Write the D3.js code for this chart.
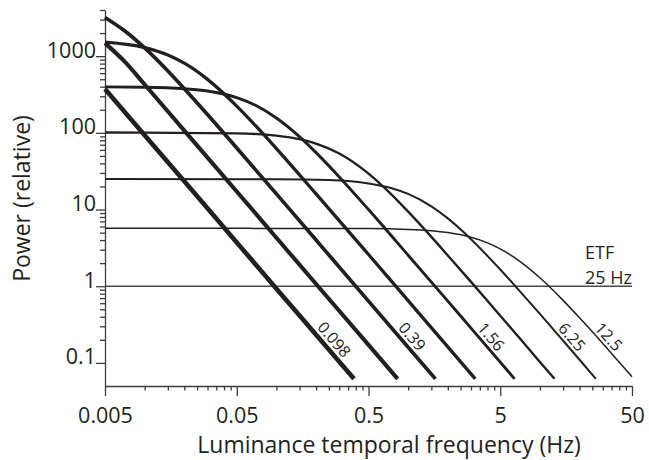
<!DOCTYPE html>
<html>
<head>
<meta charset="utf-8">
<script src="https://cdn.jsdelivr.net/npm/d3@7"></script>
<style>
  body { margin: 0; background: #fff; }
  svg text { font-family: "Open Sans", sans-serif; fill: #231f20; }
  .tick-label { font-size: 21.5px; }
  .axis-title { font-size: 23px; }
  .speed-label { font-size: 16px; }
  .etf-label { font-size: 18px; }
</style>
</head>
<body>
<div class="chart"></div>
<script>
  // power spectra, [frequency Hz, relative power], one per speed
  var speeds = ["0.098", "0.195", "0.39", "0.78", "1.56", "3.125", "6.25", "12.5"];
  var labelled = ["0.098", "0.39", "1.56", "6.25", "12.5"];

  var curve0098 = [[0.005, 372], [0.01, 93], [0.02, 23.3], [0.05, 3.72], [0.1, 0.93], [0.2, 0.233], [0.388, 0.062]];
  var curve0195 = [[0.005, 1480], [0.007, 860], [0.01, 427], [0.02, 107], [0.05, 17.2], [0.1, 4.29], [0.2, 1.07], [0.5, 0.172], [0.832, 0.062]];
  var curve039 = [[0.005, 3200], [0.007, 2160], [0.01, 1280], [0.015, 640], [0.02, 376], [0.03, 173], [0.05, 63.4],
    [0.1, 16.0], [0.2, 4.0], [0.5, 0.64], [1, 0.16], [1.61, 0.062]];
  var curve078 = [[0.005, 1525], [0.01, 1296], [0.015, 1037], [0.02, 810], [0.03, 498], [0.05, 223], [0.07, 122],
    [0.1, 62.3], [0.2, 16.0], [0.5, 2.59], [1, 0.648], [2, 0.162], [3.23, 0.062]];
  var curve156 = [[0.005, 398], [0.01, 394], [0.02, 376], [0.03, 351], [0.05, 288], [0.07, 227], [0.1, 156],
    [0.15, 88.6], [0.2, 55.2], [0.3, 26.6], [0.5, 10.0], [1, 2.54], [2, 0.64], [3, 0.284], [6.42, 0.062]];
  var curve3125 = [[0.005, 101], [0.05, 98.6], [0.1, 92.0], [0.15, 82.8], [0.2, 72.6], [0.3, 53.8], [0.5, 29.4],
    [0.7, 17.5], [1, 9.38], [1.5, 4.40], [2, 2.52], [3, 1.14], [5, 0.412], [7, 0.211], [10, 0.103], [12.9, 0.062]];
  var curve625 = [[0.005, 25], [0.1, 24.9], [0.25, 24.2], [0.5, 21.9], [0.75, 19.0], [1, 16.0], [1.5, 11.0],
    [2, 7.67], [3, 4.11], [5, 1.65], [7, 0.871], [10, 0.435], [15, 0.195], [20, 0.110], [26.6, 0.062]];
  var curve125 = [[0.005, 5.7], [0.5, 5.65], [1, 5.51], [2, 5.01], [3, 4.35], [4, 3.68], [5, 3.07], [7, 2.13],
    [10, 1.29], [15, 0.654], [20, 0.387], [30, 0.179], [40, 0.102], [50, 0.066]];

  var curves = [curve0098, curve0195, curve039, curve078, curve156, curve3125, curve625, curve125];
  var etfLine = [[0.005, 1], [50, 1]];
  var etfText = ["ETF", "25 Hz"];

  var xTicks = [0.005, 0.05, 0.5, 5, 50];
  var yTicks = [0.1, 1, 10, 100, 1000];

  // heavier strokes for the slower speeds
  var strokeWidths = [4.6, 4.1, 3.7, 3.3, 2.9, 2.4, 2.0, 1.5];

  var width = 649, height = 460;
  var axisColor = "#3c3c3c";
  var inkColor = "#231f20";

  var svg = d3.select(".chart").append("svg")
    .attr("width", width)
    .attr("height", height);

  var x = d3.scaleLog().domain([0.005, 50]).range([105, 632]);
  var y = d3.scaleLog().domain([0.05, 4000]).range([386, 10]);

  // minor ticks at 2..9 times each decade start
  var xMinor = [];
  xTicks.slice(0, -1).forEach(function(b) {
    d3.range(2, 10).forEach(function(k) { xMinor.push(b * k); });
  });
  var yMinor = [];
  yTicks.forEach(function(b) {
    d3.range(2, 10).forEach(function(k) {
      if (b * k <= y.domain()[1]) yMinor.push(b * k);
    });
  });

  // x axis
  svg.append("g")
    .attr("transform", "translate(0,386)")
    .style("color", axisColor)
    .call(d3.axisBottom(x).tickValues(xMinor).tickSize(4.5).tickSizeOuter(0).tickFormat(""))
    .call(function(g) { g.select(".domain").remove(); })
    .selectAll("line").attr("stroke-width", 1.3);

  var xAxis = svg.append("g")
    .attr("transform", "translate(0,386)")
    .style("color", axisColor)
    .call(d3.axisBottom(x).tickValues(xTicks).tickSize(10).tickSizeOuter(0).tickFormat(function(d) { return d; }));
  xAxis.selectAll("line, path").attr("stroke-width", 1.3);
  xAxis.selectAll("text")
    .attr("class", "tick-label")
    .attr("y", 37)
    .attr("dy", 0);

  // y axis
  svg.append("g")
    .attr("transform", "translate(105,0)")
    .style("color", axisColor)
    .call(d3.axisLeft(y).tickValues(yMinor).tickSize(5).tickSizeOuter(0).tickFormat(""))
    .call(function(g) { g.select(".domain").remove(); })
    .selectAll("line").attr("stroke-width", 1.3);

  var yAxis = svg.append("g")
    .attr("transform", "translate(105,0)")
    .style("color", axisColor)
    .call(d3.axisLeft(y).tickValues(yTicks).tickSize(9).tickSizeOuter(0).tickPadding(0).tickFormat(function(d) { return d; }));
  yAxis.selectAll("line, path").attr("stroke-width", 1.3);
  yAxis.selectAll("text")
    .attr("class", "tick-label")
    .attr("dy", 1);

  var line = d3.line()
    .x(function(d) { return x(d[0]); })
    .y(function(d) { return y(d[1]); })
    .curve(d3.curveMonotoneX);

  svg.append("path")
    .datum(etfLine)
    .attr("d", line)
    .attr("fill", "none")
    .attr("stroke", "#4a4a4a")
    .attr("stroke-width", 1.3);

  svg.selectAll(".spectrum")
    .data(curves)
    .enter().append("path")
    .attr("class", "spectrum")
    .attr("d", line)
    .attr("fill", "none")
    .attr("stroke", inkColor)
    .attr("stroke-width", function(d, i) { return strokeWidths[i]; });

  // speed labels sit along their curve where it crosses labelY
  var labelY = 331;
  curves.forEach(function(c, i) {
    if (labelled.indexOf(speeds[i]) < 0) return;
    var pts = c.map(function(d) { return [x(d[0]), y(d[1])]; });
    for (var j = 1; j < pts.length; j++) {
      var a = pts[j - 1], b = pts[j];
      if (a[1] <= labelY && b[1] >= labelY) {
        var t = (labelY - a[1]) / (b[1] - a[1]);
        var px = a[0] + t * (b[0] - a[0]);
        var ang = Math.atan2(b[1] - a[1], b[0] - a[0]) * 180 / Math.PI;
        svg.append("text")
          .attr("class", "speed-label")
          .attr("transform", "translate(" + px + "," + labelY + ") rotate(" + ang + ")")
          .attr("dy", -(strokeWidths[i] / 2 + 2.5))
          .text(speeds[i]);
        break;
      }
    }
  });

  // two-line note above the flat P = 1 line
  svg.selectAll(".etf-label")
    .data(etfText)
    .enter().append("text")
    .attr("class", "etf-label")
    .attr("x", 585)
    .attr("y", function(d, i) { return i ? 283.5 : 258.5; })
    .text(function(d) { return d; });

  // axis titles
  svg.append("text")
    .attr("class", "axis-title")
    .attr("x", 389)
    .attr("y", 453)
    .attr("text-anchor", "middle")
    .text("Luminance temporal frequency (Hz)");

  svg.append("text")
    .attr("class", "axis-title")
    .attr("transform", "translate(29.5,198.5) rotate(-90)")
    .attr("text-anchor", "middle")
    .text("Power (relative)");
</script>
</body>
</html>
